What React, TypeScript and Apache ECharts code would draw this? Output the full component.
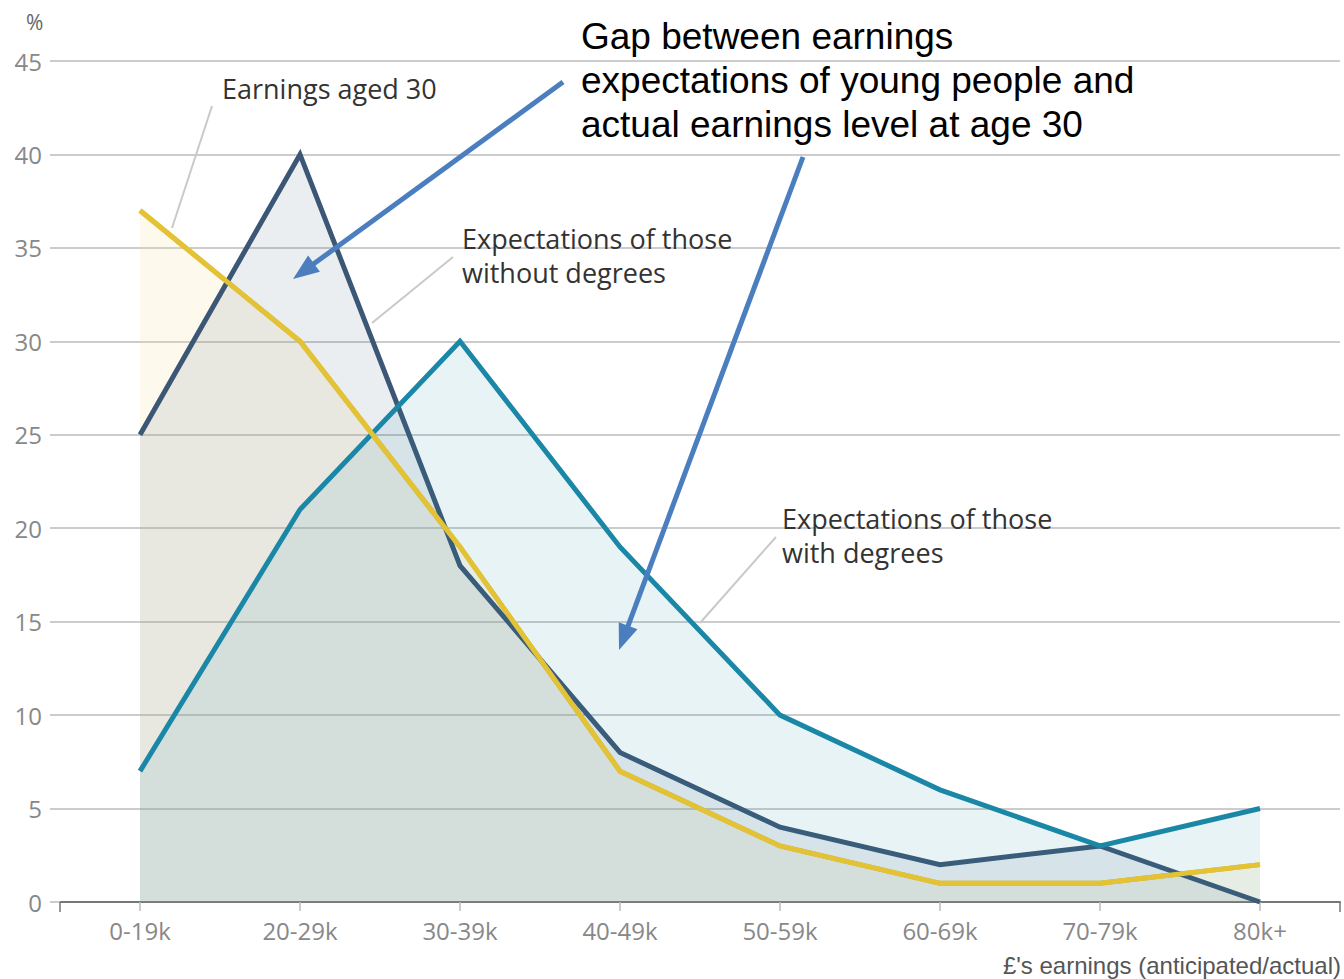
import React, { useEffect, useRef } from "react";
import * as echarts from "echarts";

const categories = ["0-19k", "20-29k", "30-39k", "40-49k", "50-59k", "60-69k", "70-79k", "80k+"];
const withoutDegrees = [25, 40, 18, 8, 4, 2, 3, 0];
const withDegrees = [7, 21, 30, 19, 10, 6, 3, 5];
const earningsAged30 = [37, 30, 19, 7, 3, 1, 1, 2];
const yTicks = { min: 0, max: 45, interval: 5 };

const NAVY = "#3b5775";
const TEAL = "#1b87a6";
const YELLOW = "#e3c236";
const ARROW = "#4a7ebf";
const LEADER = "#c9c9c9";
const OPEN = "'Open Sans', 'Noto Sans', sans-serif";
const ARIAL = "'Liberation Sans', Arial, sans-serif";

function arrow(x1: number, y1: number, x2: number, y2: number) {
  const dx = x2 - x1, dy = y2 - y1;
  const len = Math.sqrt(dx * dx + dy * dy);
  const ux = dx / len, uy = dy / len;
  const hl = 26, hw = 10;
  const bx = x2 - ux * hl, by = y2 - uy * hl;
  return [
    { type: "line", shape: { x1, y1, x2: bx + ux * 2, y2: by + uy * 2 }, style: { stroke: ARROW, lineWidth: 5 }, z: 100 },
    {
      type: "polygon",
      shape: { points: [[x2, y2], [bx - uy * hw, by + ux * hw], [bx + uy * hw, by - ux * hw]] },
      style: { fill: ARROW },
      z: 100,
    },
  ];
}

function leader(x1: number, y1: number, x2: number, y2: number) {
  return { type: "line", shape: { x1, y1, x2, y2 }, style: { stroke: LEADER, lineWidth: 2 }, z: 90 };
}

function label(x: number, y: number, text: string) {
  return {
    type: "text", x, y, z: 95,
    style: { text, fill: "#333", font: `27px ${OPEN}`, lineHeight: 34, textVerticalAlign: "middle" },
  };
}

export default function App() {
  const ref = useRef<HTMLDivElement>(null);
  useEffect(() => {
    if (!ref.current) return;
    const chart = echarts.init(ref.current, undefined, { renderer: "svg" });
    const lineSeries = (name: string, data: number[], color: string, area: string, z: number) => ({
      type: "line", name, data, xAxisIndex: 0, yAxisIndex: 0,
      symbol: "none", z,
      lineStyle: { color, width: 5, join: "miter" },
      itemStyle: { color },
      areaStyle: { color: area, opacity: 1 },
    });
    chart.setOption({
      animation: false,
      backgroundColor: "#fff",
      grid: { left: 60, right: 4, top: 61, bottom: 77 },
      xAxis: [
        {
          type: "category", data: categories, boundaryGap: true,
          axisLine: { show: false },
          axisTick: { show: true, alignWithLabel: true, length: 9, lineStyle: { color: "#bbb", width: 1.5 } },
          axisLabel: { color: "#888", fontFamily: OPEN, fontSize: 24, margin: 16 },
          splitLine: { show: false },
        },
        {
          type: "value", min: 0, max: 8, interval: 8, position: "bottom",
          axisLine: { show: true, lineStyle: { color: "#777", width: 2 } },
          axisTick: { show: true, length: 10, lineStyle: { color: "#777", width: 1.5 } },
          axisLabel: { show: false },
          splitLine: { show: false },
        },
      ],
      yAxis: {
        type: "value", min: yTicks.min, max: yTicks.max, interval: yTicks.interval,
        axisLine: { show: false },
        axisTick: { show: true, length: 10, lineStyle: { color: "#ccc", width: 2 } },
        axisLabel: { color: "#888", fontFamily: OPEN, fontSize: 24, margin: 18 },
        splitLine: { show: true, lineStyle: { color: "#ccc", width: 2 } },
      },
      series: [
        lineSeries("Earnings aged 30", earningsAged30, YELLOW, "rgba(242,220,150,0.18)", 2),
        lineSeries("Expectations of those without degrees", withoutDegrees, NAVY, "rgba(59,87,117,0.1)", 3),
        lineSeries("Expectations of those with degrees", withDegrees, TEAL, "rgba(27,135,166,0.1)", 4),
        { ...lineSeries("Earnings aged 30 line", earningsAged30, YELLOW, "rgba(0,0,0,0)", 5), areaStyle: undefined },
      ],
      graphic: [
        { type: "text", x: 26, y: 22, style: { text: "%", fill: "#666", font: `21px ${OPEN}`, textVerticalAlign: "middle" } },
        label(222, 88, "Earnings aged 30"),
        leader(212, 106, 172, 228),
        label(462, 255, "Expectations of those\nwithout degrees"),
        leader(453, 257, 372, 323),
        label(782, 535, "Expectations of those\nwith degrees"),
        leader(776, 537, 700, 623),
        {
          type: "text", x: 581, y: 80, z: 110,
          style: {
            text: "Gap between earnings\nexpectations of young people and\nactual earnings level at age 30",
            fill: "#000", font: `37px ${ARIAL}`, lineHeight: 44, textVerticalAlign: "middle",
          },
        },
        ...arrow(563, 82, 293, 279),
        ...arrow(803, 157, 619, 650),
        {
          type: "text", x: 1341, y: 965, z: 95,
          style: { text: "£'s earnings (anticipated/actual)", fill: "#555", font: `24px ${ARIAL}`, textAlign: "right", textVerticalAlign: "middle" },
        },
      ],
    });
    return () => chart.dispose();
  }, []);
  return <div ref={ref} style={{ position: "absolute", left: 0, top: 0, width: 1344, height: 979 }} />;
}
